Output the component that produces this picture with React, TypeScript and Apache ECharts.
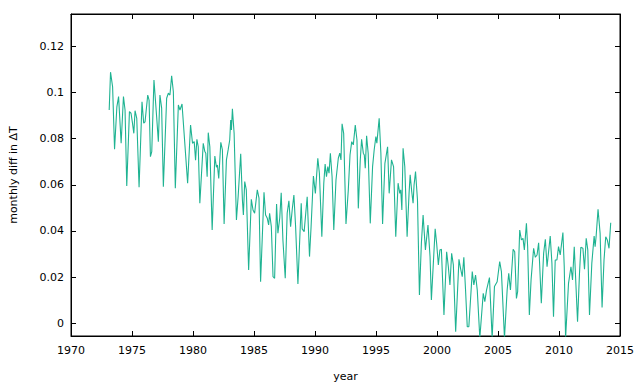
import React, { useEffect, useRef } from "react";
import * as echarts from "echarts";

const years: number[] = [
  1973.13, 1973.24, 1973.41, 1973.57, 1973.76, 1973.9, 1974.11, 1974.3, 1974.43, 1974.57,
  1974.79, 1974.92, 1975.04, 1975.15, 1975.25, 1975.39, 1975.58, 1975.82, 1975.96, 1976.07,
  1976.29, 1976.4, 1976.51, 1976.62, 1976.8, 1977.02, 1977.16, 1977.29, 1977.43, 1977.57,
  1977.84, 1977.98, 1978.11, 1978.25, 1978.39, 1978.55, 1978.8, 1978.93, 1979.1, 1979.56,
  1979.8, 1979.96, 1980.1, 1980.21, 1980.32, 1980.43, 1980.56, 1980.84, 1980.97, 1981.05,
  1981.16, 1981.25, 1981.38, 1981.57, 1981.79, 1981.92, 1982.0, 1982.11, 1982.28, 1982.41,
  1982.55, 1982.74, 1982.88, 1983.01, 1983.09, 1983.15, 1983.23, 1983.37, 1983.56, 1983.7,
  1983.91, 1984.05, 1984.13, 1984.24, 1984.37, 1984.56, 1984.78, 1984.92, 1985.05, 1985.27,
  1985.41, 1985.54, 1985.82, 1985.95, 1986.09, 1986.2, 1986.28, 1986.42, 1986.56, 1986.69,
  1986.85, 1986.96, 1987.11, 1987.23, 1987.37, 1987.56, 1987.72, 1987.86, 1988.0, 1988.13,
  1988.27, 1988.41, 1988.6, 1988.87, 1988.95, 1989.11, 1989.36, 1989.55, 1989.68, 1989.87,
  1990.03, 1990.23, 1990.36, 1990.56, 1990.72, 1990.83, 1990.94, 1991.05, 1991.15, 1991.26,
  1991.4, 1991.54, 1991.72, 1991.91, 1992.03, 1992.13, 1992.22, 1992.35, 1992.54, 1992.73,
  1992.87, 1993.01, 1993.14, 1993.3, 1993.44, 1993.55, 1993.71, 1993.82, 1993.96, 1994.04,
  1994.12, 1994.23, 1994.36, 1994.53, 1994.72, 1994.85, 1994.99, 1995.07, 1995.26, 1995.4,
  1995.54, 1995.73, 1995.95, 1996.08, 1996.27, 1996.44, 1996.62, 1996.81, 1996.95, 1997.03,
  1997.12, 1997.22, 1997.36, 1997.55, 1997.71, 1997.8, 1997.93, 1998.04, 1998.12, 1998.24,
  1998.4, 1998.56, 1998.72, 1998.86, 1999.05, 1999.26, 1999.43, 1999.54, 1999.7, 1999.85,
  1999.97, 2000.11, 2000.24, 2000.36, 2000.57, 2000.79, 2000.93, 2001.06, 2001.2, 2001.34,
  2001.53, 2001.8, 2001.93, 2002.07, 2002.2, 2002.34, 2002.48, 2002.61, 2002.89, 2003.02,
  2003.16, 2003.3, 2003.51, 2003.79, 2003.92, 2004.06, 2004.3, 2004.52, 2004.71, 2004.93,
  2005.14, 2005.28, 2005.53, 2005.75, 2005.88, 2006.02, 2006.24, 2006.37, 2006.51, 2006.61,
  2006.78, 2006.92, 2007.05, 2007.16, 2007.33, 2007.43, 2007.57, 2007.71, 2007.92, 2008.06,
  2008.2, 2008.33, 2008.41, 2008.55, 2008.74, 2008.88, 2009.02, 2009.28, 2009.42, 2009.55,
  2009.69, 2009.83, 2009.96, 2010.1, 2010.32, 2010.43, 2010.54, 2010.78, 2010.98, 2011.11,
  2011.25, 2011.52, 2011.68, 2011.79, 2011.96, 2012.09, 2012.23, 2012.36, 2012.5, 2012.69,
  2012.88, 2012.96, 2013.04, 2013.2, 2013.37, 2013.53, 2013.69, 2013.83, 2013.96, 2014.1,
  2014.24,
];

const diffs: number[] = [
  0.0924, 0.1088, 0.1025, 0.0754, 0.0938, 0.0982, 0.078, 0.0982, 0.0924, 0.0595,
  0.0917, 0.091, 0.0867, 0.0823, 0.0921, 0.0888, 0.0589, 0.096, 0.0867, 0.0873,
  0.0989, 0.0967, 0.0722, 0.0744, 0.1054, 0.0895, 0.0787, 0.0989, 0.0932, 0.0592,
  0.0975, 0.0997, 0.0989, 0.1072, 0.1003, 0.0585, 0.0946, 0.0924, 0.095, 0.0607,
  0.0859, 0.078, 0.0787, 0.0707, 0.0797, 0.0765, 0.052, 0.078, 0.0744, 0.0737,
  0.0635, 0.0826, 0.0765, 0.0404, 0.0725, 0.0676, 0.0686, 0.0628, 0.0784, 0.0751,
  0.043, 0.0708, 0.0751, 0.0794, 0.0881, 0.0838, 0.0929, 0.0823, 0.0448, 0.0549,
  0.0734, 0.0534, 0.0469, 0.0614, 0.0578, 0.0231, 0.0537, 0.0491, 0.0477, 0.0578,
  0.0542, 0.018, 0.0568, 0.0469, 0.0455, 0.0426, 0.0477, 0.0419, 0.0202, 0.0195,
  0.0517, 0.039, 0.0456, 0.0566, 0.0361, 0.0195, 0.0477, 0.0531, 0.0419, 0.0491,
  0.0556, 0.0419, 0.017, 0.052, 0.0409, 0.0397, 0.0548, 0.0289, 0.0419, 0.0638,
  0.0563, 0.0715, 0.065, 0.0375, 0.0607, 0.069, 0.0635, 0.0679, 0.065, 0.0737,
  0.0635, 0.0404, 0.0621, 0.0715, 0.0737, 0.0708, 0.0864, 0.0823, 0.043, 0.0578,
  0.0729, 0.0787, 0.0773, 0.0859, 0.0794, 0.0498, 0.0708, 0.0797, 0.0737, 0.0729,
  0.0672, 0.0812, 0.0737, 0.0433, 0.0679, 0.0751, 0.0809, 0.078, 0.0888, 0.0737,
  0.043, 0.0693, 0.0765, 0.0563, 0.0708, 0.0679, 0.0375, 0.0607, 0.0563, 0.0578,
  0.0491, 0.0758, 0.0679, 0.0375, 0.0563, 0.0643, 0.057, 0.052, 0.0599, 0.0657,
  0.0534, 0.0123, 0.0347, 0.0469, 0.0318, 0.0426, 0.0289, 0.0101, 0.026, 0.0409,
  0.0347, 0.0253, 0.0318, 0.0321, 0.0036, 0.031, 0.0245, 0.0166, 0.0303, 0.0253,
  -0.0036, 0.0277, 0.0238, 0.0202, 0.0286, 0.0144, -0.0015, -0.0015, 0.0224, 0.0166,
  0.0209, 0.0144, -0.0064, 0.013, 0.0094, 0.0144, 0.0198, -0.0064, 0.0159, 0.018,
  0.0267, 0.0224, -0.0064, 0.0144, 0.0217, 0.0144, 0.0321, 0.031, 0.0108, 0.0137,
  0.0404, 0.0361, 0.0368, 0.0318, 0.0433, 0.0332, 0.0036, 0.0188, 0.0325, 0.0286,
  0.0296, 0.0349, 0.026, 0.0087, 0.0303, 0.0364, 0.0245, 0.0378, 0.026, 0.0029,
  0.0274, 0.0274, 0.0332, 0.0296, 0.0393, 0.0245, -0.0064, 0.0173, 0.0245, 0.0188,
  0.0332, 0.0007, 0.0217, 0.0329, 0.0325, 0.0234, 0.0368, 0.0318, 0.0036, 0.026,
  0.0378, 0.0332, 0.0375, 0.0494, 0.039, 0.0069, 0.0274, 0.0375, 0.0361, 0.0325,
  0.0436,
];

const yTicks: number[] = [0, 0.02, 0.04, 0.06, 0.08, 0.1, 0.12];

const FONT = "DejaVu Sans";

export default function App() {
  const ref = useRef<HTMLDivElement>(null);
  useEffect(() => {
    document.body.style.margin = "0";
    if (!ref.current) return;
    const chart = echarts.init(ref.current, null, { renderer: "svg" });
    const data = years.map((y, i) => [y, diffs[i]]);
    const xCommon = {
      type: "value" as const,
      min: 1970,
      max: 2015,
      interval: 5,
      splitLine: { show: false },
      axisLine: { show: true, onZero: false, lineStyle: { color: "#000", width: 1 } },
      axisTick: { show: true, inside: true, length: 5, lineStyle: { color: "#000" } },
    };
    const yCommon = {
      type: "value" as const,
      min: -0.0055,
      max: 0.134,
      splitLine: { show: false },
      axisLine: { show: true, onZero: false, lineStyle: { color: "#000", width: 1 } },
      axisTick: {
        show: true,
        inside: true,
        length: 5,
        customValues: yTicks,
        lineStyle: { color: "#000" },
      },
    };
    chart.setOption({
      animation: false,
      backgroundColor: "#fff",
      grid: {
        left: 69,
        right: 20,
        top: 14,
        bottom: 51,
        containLabel: false,
        show: true,
        borderColor: "#000",
        borderWidth: 1,
        backgroundColor: "transparent",
      },
      xAxis: [
        {
          ...xCommon,
          position: "bottom",
          name: "year",
          nameLocation: "middle",
          nameGap: 35,
          nameTextStyle: { fontFamily: FONT, fontSize: 11, color: "#000" },
          axisLabel: {
            fontFamily: FONT,
            fontSize: 11,
            color: "#000",
            margin: 9,
            formatter: (v: number) => String(v),
          },
        },
        {
          ...xCommon,
          position: "top",
          axisLabel: { show: false },
        },
      ],
      yAxis: [
        {
          ...yCommon,
          position: "left",
          name: "monthly diff in ΔT",
          nameLocation: "middle",
          nameGap: 52,
          nameTextStyle: { fontFamily: FONT, fontSize: 11, color: "#000" },
          axisLabel: {
            fontFamily: FONT,
            fontSize: 11,
            color: "#000",
            margin: 7,
            customValues: yTicks,
            formatter: (v: number) => String(Math.round(v * 100) / 100),
          },
        },
        {
          ...yCommon,
          position: "right",
          axisLabel: { show: false },
        },
      ],
      series: [
        {
          type: "line",
          data,
          showSymbol: false,
          symbol: "none",
          clip: true,
          lineStyle: { color: "#1fb392", width: 1.1 },
          xAxisIndex: 0,
          yAxisIndex: 0,
        },
      ],
    });
    return () => chart.dispose();
  }, []);
  return <div ref={ref} style={{ width: 640, height: 387 }} />;
}
